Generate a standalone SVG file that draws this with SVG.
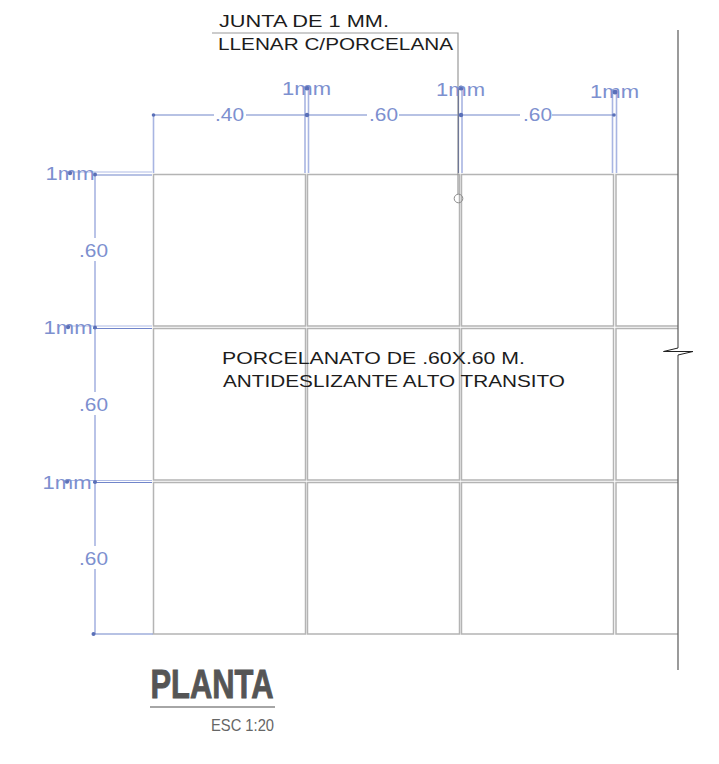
<svg xmlns="http://www.w3.org/2000/svg" width="719" height="764" viewBox="0 0 719 764">
<defs><style>
.t{fill:none;stroke:#b4b4b4;stroke-width:1.5}
.d{fill:none;stroke:#a8b5e2;stroke-width:1.6}
.d2{fill:none;stroke:#7185ca;stroke-width:1.2}
.d3{fill:none;stroke:#b0bce6;stroke-width:1.2}
.dot{fill:#5a70b8}
.n{font-family:"Liberation Sans",Arial,sans-serif;font-size:16.5px;fill:#1c1c1c}
.b{font-family:"Liberation Sans",Arial,sans-serif;font-size:18px;fill:#7d90cf;text-anchor:middle}
</style></defs>
<rect width="719" height="764" fill="#fff"/>
<g id="tiles">
<path class="t" d="M153.500 174.500H305.500V326H153.500ZM307.500 174.500H459.500V326H307.500ZM461.500 174.500H613.500V326H461.500ZM678 174.500H616V326H678M153.500 328.500H305.500V480H153.500ZM307.500 328.500H459.500V480H307.500ZM461.500 328.500H613.500V480H461.500ZM678 328.500H616V480H678M153.500 482.500H305.500V634H153.500ZM307.500 482.500H459.500V634H307.500ZM461.500 482.500H613.500V634H461.500ZM678 482.500H616V634H678"/>
</g>
<g id="edge">
<path fill="none" stroke="#666" stroke-width="1.300" d="M678 30V348M678 355V670"/>
<path fill="none" stroke="#222" stroke-width="1" d="M678 348 663.500 351.500 693 351.500 678 355"/>
</g>
<g id="connectors">
<path class="d" d="M153.500 115V173M305 87V173M308.500 87V173M462 87V173M612.500 91V173M616.500 91V173M95 174V238M95 261V392M95 415V546M95 569V634"/>
<path class="d2" d="M153 115H214M246 115H367M399 115H520M552 115H615M93 175H152M93 328.500H152M93 482.500H152M95 634H153"/>
<path class="d3" d="M69 172H152M69 326H152M67 480.500H152"/>
<path fill="none" stroke="#9a9a9a" stroke-width="1.200" d="M212 33H458V194"/>
<circle cx="458.500" cy="198.500" r="4.300" fill="none" stroke="#8a8a8a" stroke-width="1"/>
<path fill="none" stroke="#6f7796" stroke-width="1.200" d="M458.500 88V173"/>
<g class="dot">
<circle cx="153.500" cy="115" r="1.800"/><circle cx="307" cy="115" r="2.200"/><circle cx="461" cy="115" r="2.200"/><circle cx="614" cy="115" r="1.800"/>
<circle cx="307" cy="88" r="2.500"/><circle cx="461" cy="88" r="2.500"/><circle cx="615" cy="92" r="2.500"/>
<circle cx="70" cy="173" r="2.200"/><circle cx="95" cy="174.500" r="2"/><circle cx="68" cy="327" r="2.200"/><circle cx="95" cy="327.500" r="2"/><circle cx="67" cy="481.500" r="2.200"/><circle cx="95" cy="482" r="2"/><circle cx="93.500" cy="634" r="2"/>
</g>
</g>
<g id="labels">
<text class="n" x="219" y="27" textLength="170" lengthAdjust="spacingAndGlyphs">JUNTA DE 1 MM.</text>
<text class="n" x="218" y="50" textLength="235" lengthAdjust="spacingAndGlyphs">LLENAR C/PORCELANA</text>
<text class="n" x="222" y="363.500" textLength="303" lengthAdjust="spacingAndGlyphs">PORCELANATO DE .60X.60 M.</text>
<text class="n" x="223" y="386.500" textLength="342" lengthAdjust="spacingAndGlyphs">ANTIDESLIZANTE ALTO TRANSITO</text>
<g class="b">
<text x="229.500" y="121" textLength="29" lengthAdjust="spacingAndGlyphs">.40</text><text x="383.500" y="121" textLength="29" lengthAdjust="spacingAndGlyphs">.60</text><text x="537.500" y="121" textLength="29" lengthAdjust="spacingAndGlyphs">.60</text>
<text x="306.500" y="95" textLength="49" lengthAdjust="spacingAndGlyphs">1mm</text><text x="460.500" y="96" textLength="49" lengthAdjust="spacingAndGlyphs">1mm</text><text x="614.500" y="98" textLength="49" lengthAdjust="spacingAndGlyphs">1mm</text>
<text x="70" y="180" textLength="49" lengthAdjust="spacingAndGlyphs">1mm</text><text x="68" y="334" textLength="49" lengthAdjust="spacingAndGlyphs">1mm</text><text x="67" y="489" textLength="49" lengthAdjust="spacingAndGlyphs">1mm</text>
<text x="93.500" y="257" textLength="29" lengthAdjust="spacingAndGlyphs">.60</text><text x="93.500" y="411" textLength="29" lengthAdjust="spacingAndGlyphs">.60</text><text x="93.500" y="565" textLength="29" lengthAdjust="spacingAndGlyphs">.60</text>
</g>
</g>
<g id="title">
<text x="150.500" y="698" font-family="Liberation Sans,Arial,sans-serif" font-weight="700" font-size="40" fill="#555" stroke="#555" stroke-width="0.900" textLength="123" lengthAdjust="spacingAndGlyphs">PLANTA</text>
<path stroke="#888" stroke-width="1.300" d="M150 707H275"/>
<text x="211" y="730.500" font-family="Liberation Sans,Arial,sans-serif" font-size="17" fill="#666" textLength="63" lengthAdjust="spacingAndGlyphs">ESC 1:20</text>
</g>
</svg>
